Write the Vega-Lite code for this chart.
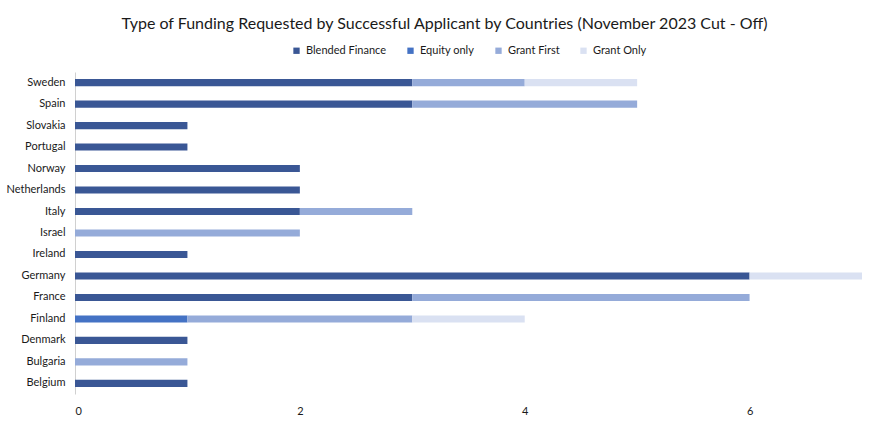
{
  "$schema": "https://vega.github.io/schema/vega-lite/v6.json",
  "autosize": "none",
  "width": 787,
  "height": 322,
  "padding": {"left": 75, "top": 72, "right": 22, "bottom": 31},
  "background": "white",
  "title": {
    "text": "Type of Funding Requested by Successful Applicant by Countries (November 2023 Cut - Off)",
    "font": "Lato",
    "fontSize": 16,
    "fontWeight": "normal",
    "color": "#1a1a1a",
    "anchor": "middle",
    "dx": -24,
    "offset": 13
  },
  "data": {
    "values": [
      {"country": "Sweden", "type": "Blended Finance", "count": 3},
      {"country": "Sweden", "type": "Grant First", "count": 1},
      {"country": "Sweden", "type": "Grant Only", "count": 1},
      {"country": "Spain", "type": "Blended Finance", "count": 3},
      {"country": "Spain", "type": "Grant First", "count": 2},
      {"country": "Slovakia", "type": "Blended Finance", "count": 1},
      {"country": "Portugal", "type": "Blended Finance", "count": 1},
      {"country": "Norway", "type": "Blended Finance", "count": 2},
      {"country": "Netherlands", "type": "Blended Finance", "count": 2},
      {"country": "Italy", "type": "Blended Finance", "count": 2},
      {"country": "Italy", "type": "Grant First", "count": 1},
      {"country": "Israel", "type": "Grant First", "count": 2},
      {"country": "Ireland", "type": "Blended Finance", "count": 1},
      {"country": "Germany", "type": "Blended Finance", "count": 6},
      {"country": "Germany", "type": "Grant Only", "count": 1},
      {"country": "France", "type": "Blended Finance", "count": 3},
      {"country": "France", "type": "Grant First", "count": 3},
      {"country": "Finland", "type": "Equity only", "count": 1},
      {"country": "Finland", "type": "Grant First", "count": 2},
      {"country": "Finland", "type": "Grant Only", "count": 1},
      {"country": "Denmark", "type": "Blended Finance", "count": 1},
      {"country": "Bulgaria", "type": "Grant First", "count": 1},
      {"country": "Belgium", "type": "Blended Finance", "count": 1}
    ]
  },
  "mark": {"type": "bar"},
  "encoding": {
    "y": {
      "field": "country",
      "type": "nominal",
      "sort": "descending",
      "scale": {"paddingInner": 0.67, "paddingOuter": 0.33},
      "axis": {
        "title": null,
        "ticks": false,
        "domainColor": "#d0d0d0",
        "labelFont": "Lato",
        "labelFontSize": 11,
        "labelColor": "#1a1a1a",
        "labelPadding": 10
      }
    },
    "x": {
      "field": "count",
      "type": "quantitative",
      "stack": "zero",
      "scale": {"domain": [0, 7], "nice": false},
      "axis": {
        "title": null,
        "values": [0, 2, 4, 6],
        "grid": false,
        "domain": false,
        "ticks": false,
        "labelFont": "Lato",
        "labelFontSize": 11,
        "labelColor": "#1a1a1a",
        "labelPadding": 11
      }
    },
    "color": {
      "field": "type",
      "type": "nominal",
      "scale": {
        "domain": ["Blended Finance", "Equity only", "Grant First", "Grant Only"],
        "range": ["#3a5795", "#4472c4", "#95abd9", "#dae1f2"]
      },
      "legend": {
        "title": null,
        "orient": "top",
        "direction": "horizontal",
        "symbolType": "square",
        "symbolSize": 40,
        "labelFont": "Lato",
        "labelFontSize": 11,
        "labelColor": "#1a1a1a",
        "columnPadding": 18,
        "offset": 16
      }
    },
    "order": {"field": "type", "sort": "ascending"}
  },
  "config": {
    "view": {"stroke": null},
    "legend": {"layout": {"top": {"anchor": "middle"}}}
  }
}
